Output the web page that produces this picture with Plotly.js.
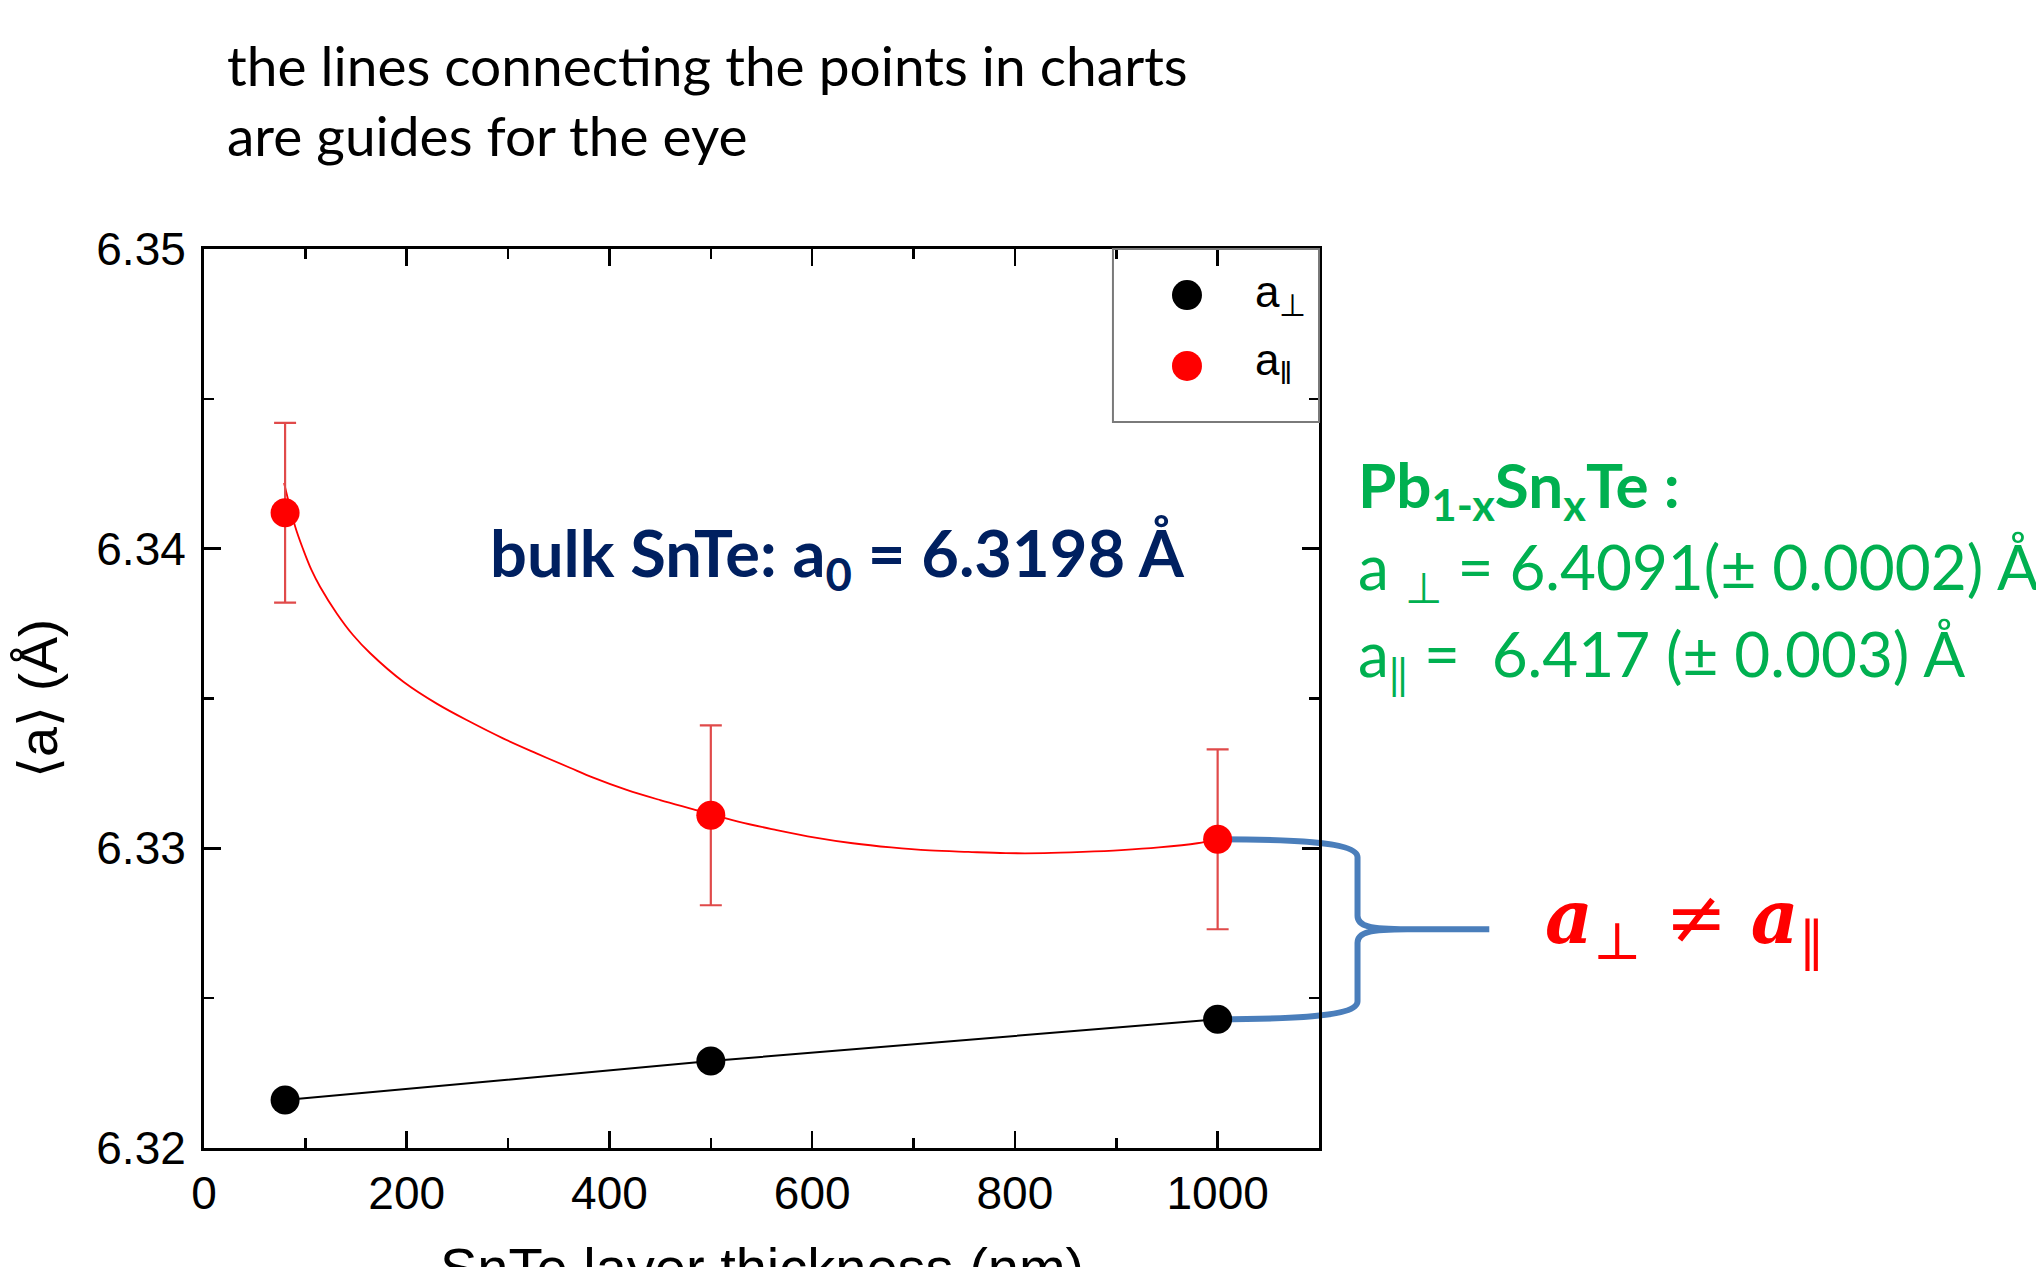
<!DOCTYPE html>
<html><head><meta charset="utf-8">
<script src="https://cdn.plot.ly/plotly-3.0.1.min.js"></script>
<style>html,body{margin:0;padding:0;background:#fff}</style>
</head><body><div id="chart" style="width:2036px;height:1267px"></div>
<script>
// ---- data ----
const thickness = [80, 500, 1000];               // SnTe layer thickness (nm)
const aPerp = [6.3216, 6.3229, 6.3243];          // a_perp (Å)
const aPar = [6.3412, 6.3311, 6.3303];           // a_par (Å)
const aParErr = [0.003, 0.003, 0.003];           // error of a_par (Å)
// guide-for-the-eye curve through the a_par points
const guideX = [79, 90, 98, 106, 114.5, 131, 147, 164, 197, 230, 262, 295, 328, 361, 384, 417, 450, 482, 527, 565, 603, 640, 678, 716, 754, 791, 829, 867, 905, 942, 980, 1000];
const guideY = [6.34219, 6.34073, 6.33996, 6.33929, 6.33873, 6.33784, 6.33712, 6.33651, 6.33555, 6.33482, 6.33423, 6.33367, 6.33317, 6.33269, 6.33236, 6.33195, 6.33161, 6.33131, 6.33089, 6.33061, 6.33036, 6.33017, 6.33003, 6.32993, 6.32988, 6.32984, 6.32984, 6.32988, 6.32994, 6.33003, 6.33017, 6.3303];
const xTicks = [0, 200, 400, 600, 800, 1000];
const yTicks = [6.32, 6.33, 6.34, 6.35];
const xRange = [0, 1100];
const yRange = [6.32, 6.35];

// ---- helpers for decorations placed in paper coordinates ----
const px = v => (v - xRange[0]) / (xRange[1] - xRange[0]);
const py = v => (v - yRange[0]) / (yRange[1] - yRange[0]);

const traces = [
  {x: guideX, y: guideY, mode: 'lines', line: {color: '#ff0000', width: 1.8, shape: 'spline', smoothing: 1}, hoverinfo: 'skip', showlegend: false},
  {x: thickness, y: aPerp, mode: 'lines+markers', name: 'a⊥',
   line: {color: '#000000', width: 2}, marker: {color: '#000000', size: 29}},
  {x: thickness, y: aPar, mode: 'markers', name: 'a‖',
   marker: {color: '#ff0000', size: 29},
   error_y: {type: 'data', array: aParErr, visible: true, color: '#e04a4a', thickness: 2.2, width: 11}}
];

// curly brace between the last a_par and a_perp points
const yT = aPar[2], yB = aPerp[2], yM = (yT + yB) / 2;
const bx = 1138, tipX = 1268, bendX = 1187;
const pts = [
  ['M', [1000, yT]],
  ['C', [1065, yT], [bx, yT - 0.00005], [bx, yT - 0.0006]],
  ['L', [bx, yM + 0.00045]],
  ['C', [bx, yM + 0.0001], [bx + 12, yM], [bendX, yM]],
  ['L', [tipX, yM]],
  ['M', [bendX, yM]],
  ['C', [bx + 12, yM], [bx, yM - 0.0001], [bx, yM - 0.00045]],
  ['L', [bx, yB + 0.0006]],
  ['C', [bx, yB + 0.00005], [1065, yB], [1000, yB]]
];
const bracePath = pts.map(s => s[0] + ' ' + s.slice(1).map(p => px(p[0]).toFixed(5) + ',' + py(p[1]).toFixed(5)).join(' ')).join(' ');

const axisCommon = {
  showline: true, linewidth: 3, linecolor: '#000', mirror: 'ticks',
  ticks: 'inside', ticklen: 17, tickwidth: 2.5, tickcolor: '#000',
  showgrid: false, zeroline: false,
  tickfont: {family: 'Liberation Sans, Arial, sans-serif', size: 46, color: '#000'}
};

const layout = {
  width: 2036, height: 1267,
  margin: {l: 204, r: 717, t: 249, b: 119},
  paper_bgcolor: '#ffffff', plot_bgcolor: 'rgba(0,0,0,0)',
  showlegend: false,
  xaxis: Object.assign({}, axisCommon, {
    range: xRange, tickvals: xTicks, ticktext: xTicks.map(String),
    minor: {ticks: 'inside', ticklen: 10, tickwidth: 2.5, tickcolor: '#000', dtick: 100, tick0: 0, showgrid: false},
    ticklabelstandoff: 3
  }),
  yaxis: Object.assign({}, axisCommon, {
    range: yRange, tickvals: yTicks, ticktext: yTicks.map(v => v.toFixed(2)),
    minor: {ticks: 'inside', ticklen: 10, tickwidth: 2.5, tickcolor: '#000', dtick: 0.005, tick0: 6.32, showgrid: false},
    ticklabelstandoff: 6,
    title: {text: '⟨a⟩ (Å)', standoff: 22, font: {family: 'Liberation Sans, Arial, sans-serif', size: 54, color: '#000'}}
  }),
  shapes: [
    {type: 'path', xref: 'paper', yref: 'paper', path: bracePath, layer: 'below',
     line: {color: '#4a7ebb', width: 6}},
    {type: 'rect', xref: 'paper', yref: 'paper', x0: 0.8152, x1: 1.0, y0: 0.8076, y1: 1.0,
     line: {color: '#7a7a7a', width: 2}, fillcolor: 'rgba(0,0,0,0)'},
    {type: 'circle', xref: 'paper', yref: 'paper', xsizemode: 'pixel', ysizemode: 'pixel',
     xanchor: 0.8816, yanchor: 0.9488, x0: -15, x1: 15, y0: -15, y1: 15, fillcolor: '#000', line: {width: 0}},
    {type: 'circle', xref: 'paper', yref: 'paper', xsizemode: 'pixel', ysizemode: 'pixel',
     xanchor: 0.8816, yanchor: 0.8699, x0: -15, x1: 15, y0: -15, y1: 15, fillcolor: '#ff0000', line: {width: 0}}
  ],
  annotations: [
    // x-axis title (placed as in the reference, partly below the page edge)
    {text: 'SnTe layer thickness (nm)', xref: 'paper', yref: 'paper', x: 0.5, y: -0.133,
     xanchor: 'center', yanchor: 'middle', showarrow: false, font: {family: 'Liberation Sans, Arial, sans-serif', size: 56, color: '#000'}},
    {text: 'the lines connecting the points in charts', xref: 'paper', yref: 'paper', x: 0.0185, y: 1.205,
     xanchor: 'left', yanchor: 'middle', showarrow: false, font: {family: 'Lato, sans-serif', size: 55, color: '#000'}},
    {text: 'are guides for the eye', xref: 'paper', yref: 'paper', x: 0.0185, y: 1.1271,
     xanchor: 'left', yanchor: 'middle', showarrow: false, font: {family: 'Lato, sans-serif', size: 55, color: '#000'}},
    {text: '<b>bulk SnTe: a<sub>0</sub> = 6.3198 Å</b>', xref: 'paper', yref: 'paper', x: 0.2547, y: 0.6574,
     xanchor: 'left', yanchor: 'middle', showarrow: false, font: {family: 'Lato, sans-serif', size: 65, color: '#002060'}},
    {text: '<b>Pb<sub>1-x</sub>Sn<sub>x</sub>Te :</b>', xref: 'paper', yref: 'paper', x: 1.0328, y: 0.7338,
     xanchor: 'left', yanchor: 'middle', showarrow: false, font: {family: 'Lato, sans-serif', size: 62, color: '#00b050'}},
    {text: 'a <sub>⊥</sub> = 6.4091(± 0.0002) Å', xref: 'paper', yref: 'paper', x: 1.0328, y: 0.6424,
     xanchor: 'left', yanchor: 'middle', showarrow: false, font: {family: 'Lato, sans-serif', size: 62, color: '#00b050'}},
    {text: 'a<sub>‖</sub> =  6.417 (± 0.003) Å', xref: 'paper', yref: 'paper', x: 1.0328, y: 0.5456,
     xanchor: 'left', yanchor: 'middle', showarrow: false, font: {family: 'Lato, sans-serif', size: 62, color: '#00b050'}},
    {text: '<b><i>a</i></b><sub>⊥</sub> ≠ <b><i>a</i></b><sub>‖</sub>', xref: 'paper', yref: 'paper', x: 1.201, y: 0.2510,
     xanchor: 'left', yanchor: 'middle', showarrow: false, font: {family: 'DejaVu Serif, serif', size: 74, color: '#ff0000'}},
    {text: 'a<sub>⊥</sub>', xref: 'paper', yref: 'paper', x: 0.9408, y: 0.9488,
     xanchor: 'left', yanchor: 'middle', showarrow: false, font: {family: 'Liberation Sans, Arial, sans-serif', size: 44, color: '#000'}},
    {text: 'a<sub>‖</sub>', xref: 'paper', yref: 'paper', x: 0.9408, y: 0.8732,
     xanchor: 'left', yanchor: 'middle', showarrow: false, font: {family: 'Liberation Sans, Arial, sans-serif', size: 44, color: '#000'}}
  ]
};

Plotly.newPlot('chart', traces, layout, {displayModeBar: false, staticPlot: true});
</script></body></html>
